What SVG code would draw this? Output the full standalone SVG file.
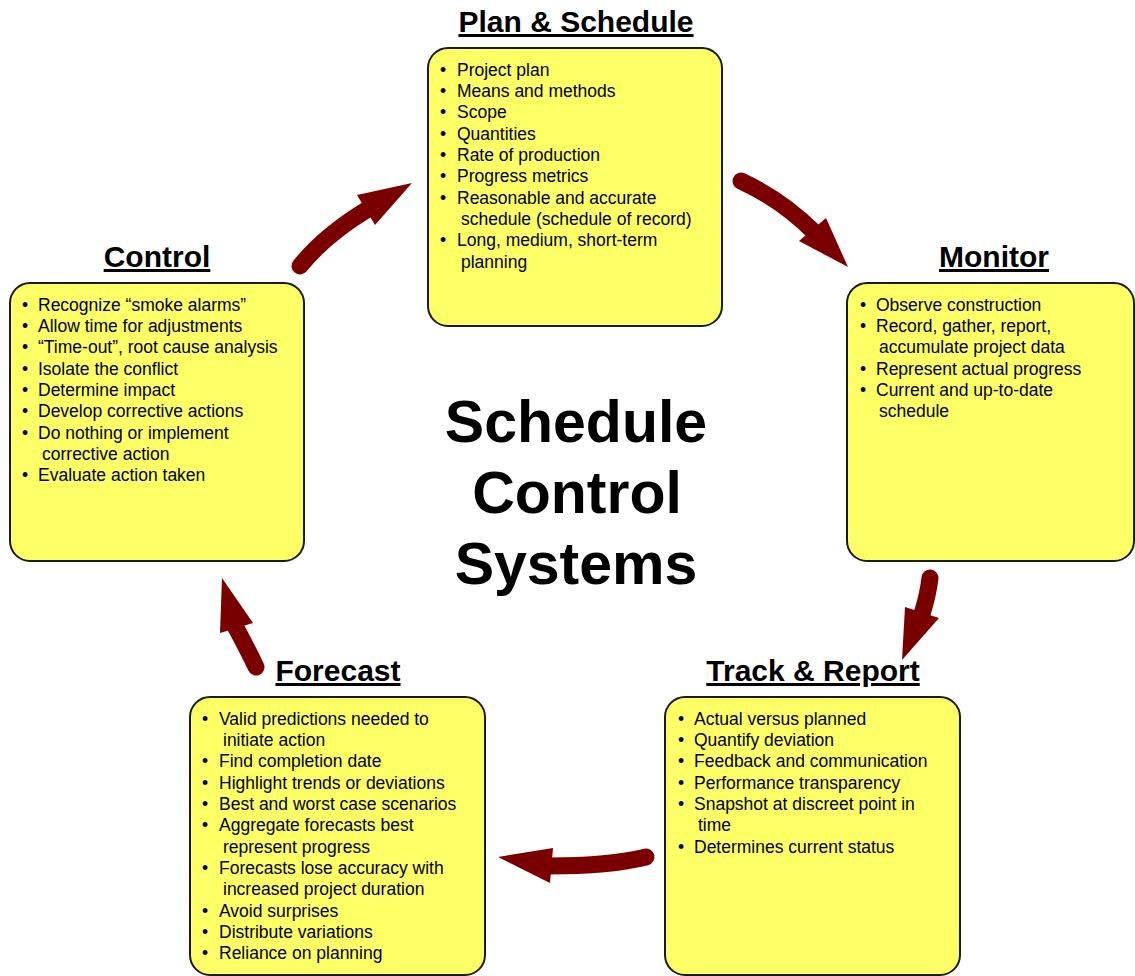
<svg xmlns="http://www.w3.org/2000/svg" width="1135" height="976" viewBox="0 0 1135 976">
<style>
.box{fill:#FFFF66;stroke:#1a1a1a;stroke-width:2}
.title{font-family:"Liberation Sans",Arial,sans-serif;font-weight:bold;font-size:30px;fill:#000;text-decoration:underline;text-anchor:middle}
.item{font-family:"Liberation Sans",Arial,sans-serif;font-size:17.5px;fill:#000}
.center{font-family:"Liberation Sans",Arial,sans-serif;font-weight:bold;font-size:59px;fill:#000;text-anchor:middle}
.shaft{fill:none;stroke:#7a0000;stroke-width:17;stroke-linecap:round}
.head{fill:#7a0000}
</style>
<rect width="1135" height="976" fill="#fff"/>
<g id="connectors">
<path class="shaft" d="M300,266 Q325,235 368,209"/>
<polygon class="head" points="412,183 357,195 375,225"/>
<path class="shaft" d="M741,181 Q782,200 814,232"/>
<polygon class="head" points="848,267 826,218 799,241"/>
<path class="shaft" d="M930,578 Q928,595 922,614"/>
<polygon class="head" points="902,660 905,607 939,618"/>
<path class="shaft" d="M646,857 Q610,866 549,866"/>
<polygon class="head" points="498,857 553,848 550,883"/>
<path class="shaft" d="M256,667 Q248,650 235,626"/>
<polygon class="head" points="222,578 220,633 253,623"/>
</g>
<g id="center">
<text class="center" x="576" y="442">Schedule</text>
<text class="center" x="577" y="513">Control</text>
<text class="center" x="576" y="584">Systems</text>
</g>
<g id="plan">
<text class="title" x="576" y="32">Plan &amp; Schedule</text>
<rect class="box" x="428" y="48" width="294" height="278" rx="20"/>
<g class="item">
<text x="440" y="76">•</text><text x="457" y="76">Project plan</text>
<text x="440" y="97">•</text><text x="457" y="97">Means and methods</text>
<text x="440" y="118">•</text><text x="457" y="118">Scope</text>
<text x="440" y="140">•</text><text x="457" y="140">Quantities</text>
<text x="440" y="161">•</text><text x="457" y="161">Rate of production</text>
<text x="440" y="182">•</text><text x="457" y="182">Progress metrics</text>
<text x="440" y="204">•</text><text x="457" y="204">Reasonable and accurate</text>
<text x="461" y="225">schedule (schedule of record)</text>
<text x="440" y="246">•</text><text x="457" y="246">Long, medium, short-term</text>
<text x="461" y="268">planning</text>
</g>
</g>
<g id="control">
<text class="title" x="157" y="267">Control</text>
<rect class="box" x="10" y="283" width="294" height="278" rx="20"/>
<g class="item">
<text x="22" y="311">•</text><text x="38" y="311">Recognize “smoke alarms”</text>
<text x="22" y="332">•</text><text x="38" y="332">Allow time for adjustments</text>
<text x="22" y="353">•</text><text x="38" y="353">“Time-out”, root cause analysis</text>
<text x="22" y="375">•</text><text x="38" y="375">Isolate the conflict</text>
<text x="22" y="396">•</text><text x="38" y="396">Determine impact</text>
<text x="22" y="417">•</text><text x="38" y="417">Develop corrective actions</text>
<text x="22" y="439">•</text><text x="38" y="439">Do nothing or implement</text>
<text x="42" y="460">corrective action</text>
<text x="22" y="481">•</text><text x="38" y="481">Evaluate action taken</text>
</g>
</g>
<g id="monitor">
<text class="title" x="994" y="267">Monitor</text>
<rect class="box" x="847" y="283" width="287" height="278" rx="20"/>
<g class="item">
<text x="860" y="311">•</text><text x="876" y="311">Observe construction</text>
<text x="860" y="332">•</text><text x="876" y="332">Record, gather, report,</text>
<text x="879" y="353">accumulate project data</text>
<text x="860" y="375">•</text><text x="876" y="375">Represent actual progress</text>
<text x="860" y="396">•</text><text x="876" y="396">Current and up-to-date</text>
<text x="879" y="417">schedule</text>
</g>
</g>
<g id="track">
<text class="title" x="813" y="681">Track &amp; Report</text>
<rect class="box" x="665" y="697" width="295" height="278" rx="20"/>
<g class="item">
<text x="678" y="725">•</text><text x="694" y="725">Actual versus planned</text>
<text x="678" y="746">•</text><text x="694" y="746">Quantify deviation</text>
<text x="678" y="767">•</text><text x="694" y="767">Feedback and communication</text>
<text x="678" y="789">•</text><text x="694" y="789">Performance transparency</text>
<text x="678" y="810">•</text><text x="694" y="810">Snapshot at discreet point in</text>
<text x="698" y="831">time</text>
<text x="678" y="853">•</text><text x="694" y="853">Determines current status</text>
</g>
</g>
<g id="forecast">
<text class="title" x="338" y="681">Forecast</text>
<rect class="box" x="190" y="697" width="295" height="278" rx="20"/>
<g class="item">
<text x="202" y="725">•</text><text x="219" y="725">Valid predictions needed to</text>
<text x="223" y="746">initiate action</text>
<text x="202" y="767">•</text><text x="219" y="767">Find completion date</text>
<text x="202" y="789">•</text><text x="219" y="789">Highlight trends or deviations</text>
<text x="202" y="810">•</text><text x="219" y="810">Best and worst case scenarios</text>
<text x="202" y="831">•</text><text x="219" y="831">Aggregate forecasts best</text>
<text x="223" y="853">represent progress</text>
<text x="202" y="874">•</text><text x="219" y="874">Forecasts lose accuracy with</text>
<text x="223" y="895">increased project duration</text>
<text x="202" y="917">•</text><text x="219" y="917">Avoid surprises</text>
<text x="202" y="938">•</text><text x="219" y="938">Distribute variations</text>
<text x="202" y="959">•</text><text x="219" y="959">Reliance on planning</text>
</g>
</g>
</svg>
